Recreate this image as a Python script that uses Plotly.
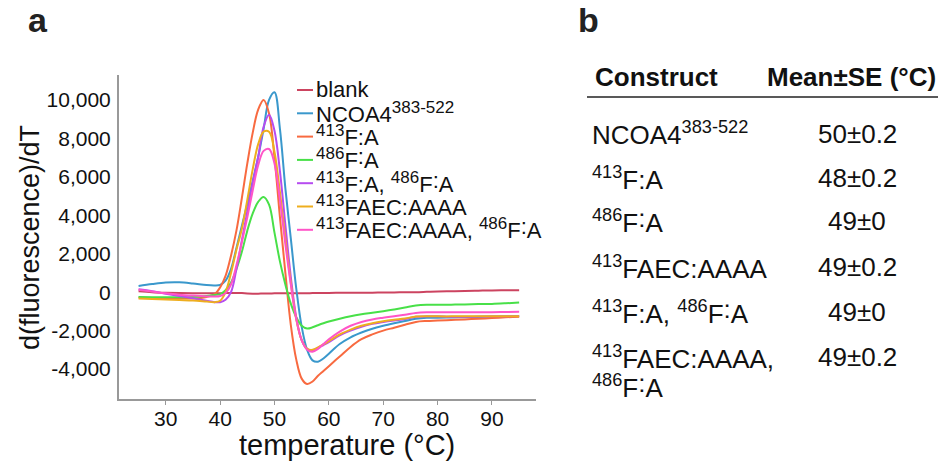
import plotly.graph_objects as go

# Melt-curve derivative readings (temperature in °C)
temperature = [25, 27.5, 30, 32.5, 35, 37.5, 39, 40, 41, 42, 43, 44, 45, 46, 47, 48, 49, 50,
               51, 52, 53, 54, 55, 56, 57, 58, 59, 60, 62, 64, 66, 68, 70, 72, 74, 76, 78,
               80, 82.5, 85, 87.5, 90, 92.5, 95]

blank = [50, 0, -30, -50, -60, -60, -60, -60, -50, -50, -40, -50, -70, -80, -80, -70, -70, -60,
         -60, -60, -60, -60, -60, -55, -50, -45, -45, -40, -35, -30, -30, -25, -20, -15, -5, 0, 20,
         40, 50, 60, 75, 90, 95, 100]

ncoa4 = [320, 420, 500, 510, 450, 370, 350, 380, 600, 1200, 2300, 3450, 4600, 5800, 7030, 8500, 10000, 10400,
         8500, 5400, 2800, 200, -1800, -3000, -3550, -3620, -3450, -3200, -2700, -2350, -2100, -1900, -1750, -1620, -1500, -1380, -1330,
         -1330, -1320, -1300, -1290, -1280, -1270, -1250]

f413 = [-280, -300, -320, -330, -330, -250, -100, 250, 850, 1900, 3200, 4900, 6700, 8300, 9500, 10000, 9300, 7000,
        3900, 1000, -1700, -3500, -4500, -4780, -4650, -4350, -4100, -3850, -3350, -2850, -2450, -2200, -2000, -1850, -1700, -1550, -1500,
        -1480, -1450, -1420, -1380, -1350, -1310, -1280]

f486 = [-250, -260, -270, -270, -250, -200, -150, -100, 100, 500, 1200, 2100, 3200, 4100, 4700, 4950, 4550, 3100,
        1600, 400, -600, -1300, -1750, -1890, -1830, -1720, -1620, -1530, -1380, -1250, -1150, -1070, -990, -900, -800, -700, -660,
        -660, -650, -640, -620, -610, -580, -540]

f413_f486 = [150, 50, -80, -200, -320, -450, -520, -520, -400, 0, 1200, 2700, 4200, 5700, 7030, 8600, 9230, 8400,
             6300, 3500, 800, -1300, -2500, -2950, -3020, -2900, -2750, -2600, -2250, -2000, -1800, -1650, -1550, -1470, -1400, -1280, -1260,
             -1260, -1280, -1280, -1270, -1260, -1250, -1240]

faec = [-330, -350, -380, -410, -440, -490, -520, -450, 0, 1000, 2200, 3300, 4800, 6400, 7700, 8350, 8350, 7300,
        5200, 2800, 500, -1400, -2500, -2950, -3000, -2880, -2720, -2550, -2200, -1950, -1750, -1620, -1520, -1440, -1370, -1270, -1250,
        -1260, -1260, -1260, -1260, -1260, -1260, -1260]

faec_f486 = [120, 30, -60, -130, -180, -220, -230, -200, -50, 400, 1400, 2600, 3900, 5300, 6600, 7350, 7450, 6700,
             4800, 2500, 400, -1400, -2500, -3000, -3100, -2950, -2700, -2450, -2050, -1750, -1550, -1420, -1330, -1250, -1170, -1080, -1050,
             -1050, -1050, -1040, -1040, -1040, -1030, -1020]

series_names = ["blank", "NCOA4<sup>383-522</sup>", "<sup>413</sup>F:A", "<sup>486</sup>F˸A",
                "<sup>413</sup>F:A, <sup>486</sup>F˸A", "<sup>413</sup>FAEC:AAAA",
                "<sup>413</sup>FAEC:AAAA, <sup>486</sup>F˸A"]
series_values = [blank, ncoa4, f413, f486, f413_f486, faec, faec_f486]
series_colors = ["#CC4460", "#3A98CC", "#F86A40", "#48E048", "#B64CF0", "#EEAE1E", "#FF55C8"]

x_ticks = [30, 40, 50, 60, 70, 80, 90]
y_ticks = [-4000, -2000, 0, 2000, 4000, 6000, 8000, 10000]
y_tick_text = ["-4,000", "-2,000", "0", "2,000", "4,000", "6,000", "8,000", "10,000"]

# Table in panel b
table_constructs = ["NCOA4<sup>383-522</sup>", "<sup>413</sup>F:A", "<sup>486</sup>F˸A",
                    "<sup>413</sup>FAEC:AAAA", "<sup>413</sup>F:A, <sup>486</sup>F˸A",
                    "<sup>413</sup>FAEC:AAAA,<br><sup>486</sup>F˸A"]
table_values = ["50±0.2", "48±0.2", "49±0", "49±0.2", "49±0", "49±0.2"]

W, H = 940, 465
FONT = "Liberation Sans, Arial, sans-serif"
TEXT = "#111111"


def px(x):
    return x / W


def py(y):
    return 1 - y / H


def big_sup(label, size):
    # enlarge superscripts a little beyond plotly's default 70 %
    return label.replace("<sup>", '<sup><span style="font-size:%dpx">' % size).replace("</sup>", "</span></sup>")


fig = go.Figure()
for name, vals, col in zip(series_names, series_values, series_colors):
    fig.add_trace(go.Scatter(x=temperature, y=vals, mode="lines", name=name,
                             line=dict(color=col, width=2, shape="spline", smoothing=1.0),
                             showlegend=False))

fig.update_layout(
    width=W, height=H,
    margin=dict(l=0, r=0, t=0, b=0),
    paper_bgcolor="white", plot_bgcolor="white",
    font=dict(family=FONT, color=TEXT),
    xaxis=dict(domain=[px(119), px(536)], range=[21.4, 98.1],
               tickvals=x_ticks, ticks="outside", ticklen=4, tickwidth=1, tickcolor="#999999",
               showline=True, linecolor="#999999", linewidth=2, showgrid=False, zeroline=False,
               tickfont=dict(size=21, family=FONT, color=TEXT), ticklabelstandoff=-4),
    yaxis=dict(domain=[py(399), py(75)], range=[-5560, 11300],
               tickvals=y_ticks, ticktext=y_tick_text, ticks="",
               showline=True, linecolor="#999999", linewidth=2, showgrid=False, zeroline=False,
               tickfont=dict(size=21, family=FONT, color=TEXT), ticklabelstandoff=2),
)

annotations = []
shapes = []

# Axis titles
annotations.append(dict(x=px(347), y=py(445), xref="paper", yref="paper", text="temperature (°C)",
                        showarrow=False, xanchor="center", yanchor="middle",
                        font=dict(size=29, family=FONT, color=TEXT)))
annotations.append(dict(x=px(30), y=py(238), xref="paper", yref="paper", text="d(fluorescence)/dT",
                        showarrow=False, xanchor="center", yanchor="middle", textangle=-90,
                        font=dict(size=27, family=FONT, color=TEXT)))

# Panel letters
annotations.append(dict(x=px(38), y=py(20), xref="paper", yref="paper", text="<b>a</b>",
                        showarrow=False, xanchor="center", yanchor="middle",
                        font=dict(size=34, family=FONT, color="#222222")))
annotations.append(dict(x=px(588), y=py(20), xref="paper", yref="paper", text="<b>b</b>",
                        showarrow=False, xanchor="center", yanchor="middle",
                        font=dict(size=34, family=FONT, color="#222222")))

# Legend entries
for i, (name, col) in enumerate(zip(series_names, series_colors)):
    yy = 90 + i * 23.3
    shapes.append(dict(type="line", xref="paper", yref="paper", x0=px(297), x1=px(313),
                       y0=py(yy), y1=py(yy), line=dict(color=col, width=2)))
    annotations.append(dict(x=px(314), y=py(yy - 1), xref="paper", yref="paper", text=big_sup(name, 17),
                            showarrow=False, xanchor="left", yanchor="middle",
                            font=dict(size=22, family=FONT, color=TEXT)))

# Table header and rule
annotations.append(dict(x=px(593), y=py(77), xref="paper", yref="paper", text="<b>Construct</b>",
                        showarrow=False, xanchor="left", yanchor="middle",
                        font=dict(size=26, family=FONT, color=TEXT)))
annotations.append(dict(x=px(938), y=py(77), xref="paper", yref="paper", text="<b>Mean±SE (°C)</b>",
                        showarrow=False, xanchor="right", yanchor="middle",
                        font=dict(size=26, family=FONT, color=TEXT)))
shapes.append(dict(type="line", xref="paper", yref="paper", x0=px(587), x1=px(938),
                   y0=py(97), y1=py(97), line=dict(color="#222222", width=1.5)))

row_y = [134, 178, 221, 267, 312, 357]
for label, val, yy in zip(table_constructs, table_values, row_y):
    lines = label.split("<br>")
    for k, part in enumerate(lines):
        annotations.append(dict(x=px(590), y=py(yy + 29 * k), xref="paper", yref="paper", text=part,
                                showarrow=False, xanchor="left", yanchor="middle",
                                font=dict(size=26, family=FONT, color=TEXT)))
    annotations.append(dict(x=px(857), y=py(yy), xref="paper", yref="paper", text=val,
                            showarrow=False, xanchor="center", yanchor="middle",
                            font=dict(size=26, family=FONT, color=TEXT)))

fig.update_layout(annotations=annotations, shapes=shapes)
fig.write_html("out.html")
